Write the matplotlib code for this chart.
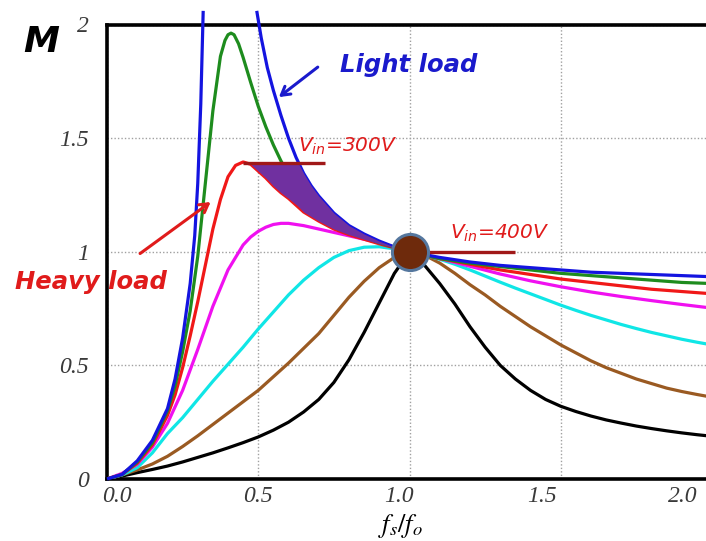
import matplotlib
matplotlib.use("Agg")
import matplotlib.pyplot as plt
from matplotlib.transforms import ScaledTranslation

# Normalised switching frequency fs/fo and voltage gain M for each load case
black_fn = [0, .05, .1, .15, .2, .25, .3, .35, .4, .45, .5, .55, .6, .65, .7, .75, .8, .85, .9, .95, 1.0,
            1.05, 1.1, 1.15, 1.2, 1.25, 1.3, 1.35, 1.4, 1.45, 1.5, 1.55, 1.6, 1.65, 1.7, 1.75, 1.8, 1.85,
            1.9, 1.95, 2.0]
black_m = [0, .013, .028, .042, .057, .075, .095, .115, .137, .16, .185, .215, .25, .295, .35, .425, .525,
           .645, .775, .905, 1.0,
           .94, .86, .77, .67, .58, .50, .44, .39, .35, .32, .297, .277, .26, .246, .233, .222, .212,
           .203, .195, .188]

brown_fn = [0, .05, .1, .15, .2, .25, .3, .35, .4, .45, .5, .55, .6, .65, .7, .75, .8, .85, .9, .95, 1.0,
            1.05, 1.1, 1.15, 1.2, 1.25, 1.3, 1.35, 1.4, 1.45, 1.5, 1.55, 1.6, 1.65, 1.7, 1.75, 1.8, 1.85,
            1.9, 1.95, 2.0]
brown_m = [0, .018, .04, .066, .1, .143, .19, .24, .29, .34, .39, .45, .51, .575, .64, .72, .80, .87, .93,
           .975, 1.0,
           .985, .95, .905, .855, .81, .76, .715, .67, .63, .59, .555, .52, .49, .465, .44, .42, .40,
           .385, .372, .36]

cyan_fn = [0, .05, .1, .15, .2, .25, .3, .35, .4, .45, .5, .55, .6, .65, .7, .75, .8, .85, .9, .95, 1.0,
           1.05, 1.1, 1.15, 1.2, 1.25, 1.3, 1.35, 1.4, 1.45, 1.5, 1.55, 1.6, 1.65, 1.7, 1.75, 1.8, 1.85,
           1.9, 1.95, 2.0]
cyan_m = [0, .018, .05, .115, .2, .27, .35, .43, .505, .58, .66, .735, .81, .875, .93, .975, 1.005,
          1.02, 1.022, 1.013, 1.0,
          .985, .967, .945, .92, .893, .866, .84, .815, .79, .765, .742, .72, .70, .68, .662, .645,
          .63, .615, .602, .59]

magenta_fn = [0, .05, .1, .15, .2, .25, .3, .35, .4, .45, .475, .5, .525, .55, .575, .6, .625, .65, .7,
              .75, .8, .85, .9, .95, 1.0,
              1.05, 1.1, 1.15, 1.2, 1.3, 1.4, 1.5, 1.6, 1.7, 1.8, 1.9, 2.0]
magenta_m = [0, .025, .065, .14, .245, .39, .57, .76, .92, 1.03, 1.065, 1.09, 1.108, 1.12, 1.125, 1.125,
             1.12, 1.115, 1.10, 1.085, 1.07, 1.055, 1.04, 1.02, 1.0,
             .985, .97, .953, .936, .902, .872, .846, .823, .803, .785, .768, .752]

red_fn = [0, .05, .1, .15, .2, .225, .25, .275, .3, .325, .35, .375, .4, .425, .45, .475, .5, .525, .55,
          .575, .6, .65, .7, .75, .8, .85, .9, .95, 1.0,
          1.1, 1.2, 1.3, 1.4, 1.5, 1.6, 1.7, 1.8, 1.9, 2.0]
red_m = [0, .02, .07, .15, .28, .37, .49, .63, .78, .94, 1.10, 1.23, 1.33, 1.38, 1.395, 1.385, 1.355,
         1.325, 1.29, 1.26, 1.235, 1.175, 1.135, 1.10, 1.075, 1.055, 1.035, 1.017, 1.0,
         .97, .945, .92, .90, .88, .865, .85, .835, .825, .815]

green_fn = [0, .05, .1, .15, .2, .225, .25, .275, .3, .325, .35, .375, .39, .4, .41, .42, .435, .45, .475,
            .5, .525, .55, .575, .6, .65, .7, .75, .8, .85, .9, .95, 1.0,
            1.1, 1.2, 1.3, 1.4, 1.5, 1.6, 1.7, 1.8, 1.9, 2.0]
green_m = [0, .02, .075, .16, .30, .41, .56, .74, .98, 1.30, 1.62, 1.86, 1.93, 1.955, 1.962, 1.955,
           1.915, 1.855, 1.745, 1.64, 1.55, 1.47, 1.40, 1.34, 1.25, 1.185, 1.14, 1.095, 1.065, 1.04,
           1.02, 1.0,
           .97, .95, .935, .92, .905, .895, .885, .875, .865, .86]

# light load: the curve leaves the top of the plot around the resonant peak
blue_left_fn = [0, .05, .1, .15, .2, .225, .25, .275, .29, .3, .31, .318]
blue_left_m = [0, .02, .08, .17, .31, .44, .62, .86, 1.07, 1.30, 1.65, 2.06]
blue_right_fn = [.495, .51, .53, .55, .575, .6, .625, .65, .675, .7, .75, .8, .85, .9, .95, 1.0,
                 1.1, 1.2, 1.3, 1.4, 1.5, 1.6, 1.7, 1.8, 1.9, 2.0]
blue_right_m = [2.06, 1.94, 1.81, 1.71, 1.60, 1.50, 1.415, 1.345, 1.29, 1.245, 1.17, 1.115, 1.078,
                1.047, 1.021, 1.0,
                .975, .955, .94, .93, .92, .91, .905, .90, .895, .89]

# operating region between heavy and light load for Vin from 300 V to 400 V
band_fn = [.447, .475, .5, .525, .55, .575, .6, .632, .65, .675, .7, .75, .8, .85, .9, .95, 1.0]
band_top = [1.395, 1.395, 1.395, 1.395, 1.395, 1.395, 1.395, 1.39, 1.345, 1.29, 1.245, 1.17, 1.115,
            1.078, 1.047, 1.021, 1.0]
band_bottom = [1.395, 1.385, 1.355, 1.325, 1.29, 1.26, 1.235, 1.20, 1.175, 1.155, 1.135, 1.10, 1.075,
               1.055, 1.035, 1.017, 1.0]

vin300_fn = [0.45, 0.72]
vin300_m = 1.39
vin400_fn = [1.0, 1.35]
vin400_m = 1.0
resonance_point = (1.0, 1.0)

xtick_labels = ["0.0", "0.5", "1.0", "1.5", "2.0"]
ytick_values = [0, 0.5, 1, 1.5, 2]
ytick_labels = ["0", "0.5", "1", "1.5", "2"]

fig = plt.figure(figsize=(7.06, 5.41), dpi=100)
ax = fig.add_axes([107 / 706, 62 / 541, 605 / 706, 454.5 / 541])
ax.set_xlim(0, 2)
ax.set_ylim(0, 2)

lw = 2.3
curves = [
    (black_fn, black_m, "#000000"),
    (brown_fn, brown_m, "#9a5a22"),
    (cyan_fn, cyan_m, "#10e6e6"),
    (magenta_fn, magenta_m, "#f010f0"),
    (red_fn, red_m, "#f01818"),
    (green_fn, green_m, "#1e8c1e"),
]
for fn, m, c in curves:
    ax.plot(fn, m, color=c, lw=lw, zorder=3, solid_capstyle="round", solid_joinstyle="round")
for fn, m in [(blue_left_fn, blue_left_m), (blue_right_fn, blue_right_m)]:
    ax.plot(fn, m, color="#1414e0", lw=lw, zorder=3, clip_on=False, solid_capstyle="butt",
            solid_joinstyle="round")

ax.fill_between(band_fn, band_bottom, band_top, color="#7030a0", lw=0, zorder=4)

ax.plot(vin300_fn, [vin300_m] * 2, color="#a01818", lw=2.4, zorder=5, solid_capstyle="butt")
ax.plot(vin400_fn, [vin400_m] * 2, color="#a01818", lw=2.4, zorder=5, solid_capstyle="butt")
ax.plot(*resonance_point, marker="o", ms=26, mfc="#6e2a0c", mec="#55779e", mew=2.2, zorder=6)

# axes frame and grid
for side in ["left", "bottom", "top"]:
    ax.spines[side].set_linewidth(2.6)
    ax.spines[side].set_color("black")
ax.spines["right"].set_visible(False)
ax.set_xticks([0, 0.5, 1.0, 1.5, 2.0])
ax.set_xticklabels([])
ax.set_yticks(ytick_values)
ax.set_yticklabels(ytick_labels, fontfamily="Liberation Serif", style="italic",
                   fontsize=17, color="#3a3a3a")
shift_down = ScaledTranslation(0, -0.035, fig.dpi_scale_trans)
for lab in ax.get_yticklabels():
    lab.set_transform(lab.get_transform() + shift_down)
ax.tick_params(length=0)
ax.tick_params(axis="y", pad=13)
ax.grid(True, color="#a0a0a0", lw=1.0, linestyle=(0, (1, 1.5)), zorder=1)
ax.set_axisbelow(True)

xlabel_pos = [0.033, 0.499, 0.965, 1.438, 1.904]
for xp, lab in zip(xlabel_pos, xtick_labels):
    ax.text(xp, -0.079, lab, ha="center", va="center", fontfamily="Liberation Serif",
            style="italic", fontsize=17, color="#3a3a3a", clip_on=False)

plt.rcParams["mathtext.fontset"] = "stix"
ax.text(0.97, -0.205, r"$f_s/f_o$", ha="center", va="center", fontsize=19, clip_on=False)
ax.text(-0.218, 1.925, "M", ha="center", va="center", fontsize=26, fontweight="bold",
        style="italic", fontfamily="DejaVu Sans", clip_on=False)

# annotations
ax.text(0.77, 1.82, "Light load", ha="left", va="center", fontsize=17.5, fontweight="bold",
        style="italic", color="#1a1acc", fontfamily="DejaVu Sans", zorder=7)
ax.annotate("", xy=(0.561, 1.673), xytext=(0.704, 1.82),
            arrowprops=dict(arrowstyle="->,head_length=0.6,head_width=0.35", color="#1a1acc", lw=2.2))
ax.text(-0.304, 0.866, "Heavy load", ha="left", va="center", fontsize=17.5, fontweight="bold",
        style="italic", color="#e01b1b", fontfamily="DejaVu Sans", zorder=7, clip_on=False)
ax.annotate("", xy=(0.350, 1.226), xytext=(0.102, 0.985),
            arrowprops=dict(arrowstyle="->,head_length=0.6,head_width=0.35", color="#e01b1b", lw=2.2))

plt.rcParams["mathtext.fontset"] = "dejavusans"
ax.text(0.631, 1.464, r"$V_{in}$=300V", ha="left", va="center", fontsize=14.5,
        style="italic", color="#e01b1b", fontfamily="DejaVu Sans", zorder=7)
ax.text(1.134, 1.081, r"$V_{in}$=400V", ha="left", va="center", fontsize=14.5,
        style="italic", color="#e01b1b", fontfamily="DejaVu Sans", zorder=7)

fig.savefig("out.png", dpi=100)
